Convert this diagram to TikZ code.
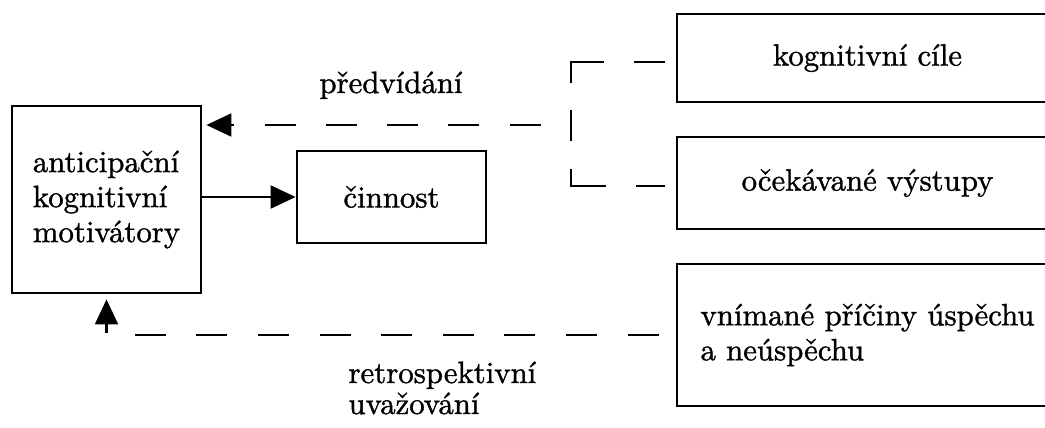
\documentclass[tikz,border=0pt]{standalone}
\usepackage{fontspec}
\setmainfont{lmroman10-regular.otf}[RawFeature={embolden=1.2}]
\usetikzlibrary{arrows.meta}
\begin{document}
\begin{tikzpicture}[x=1pt, y=-1pt,
  font=\fontsize{30.8}{35}\selectfont,
  box/.style={draw, line width=2.8pt, inner sep=0pt},
  link/.style={line width=2.1pt},
  tip/.style={-{Triangle[length=25pt,width=23pt]}},
]
\useasboundingbox (0,0) rectangle (1045,428);

% boxes
\node[box, minimum width=189pt, minimum height=187pt, align=left] (motiv) at (106.5,199.5)
  {anticipační\\kognitivní\\motivátory};
\node[box, minimum width=189pt, minimum height=92pt] (cin) at (391.5,197) {činnost};
\node[box, minimum width=381pt, minimum height=88pt] (goal) at (867.5,58) {kognitivní cíle};
\node[box, minimum width=381pt, minimum height=92pt] (out) at (867.5,183) {očekávané výstupy};
\node[box, minimum width=381pt, minimum height=142pt, align=left] (cause) at (867.5,335)
  {vnímané příčiny úspěchu\\a neúspěchu};

% labels
\node[anchor=base] (fore) at (391,93) {předvídání};
\node[anchor=base west, align=left, font=\fontsize{30.8}{31}\selectfont] (retro) at (345,414)
  {retrospektivní\\uvažování};

% connectors
\draw[link, tip] (motiv.east |- cin.west) -- (cin.west);

\coordinate (fork) at (571,125);
\draw[link, tip, dash pattern=on 31pt off 30.3pt, dash phase=31pt, shorten >=4pt]
  (fork) -- (motiv.east |- fork);

% bracket joining the two upper boxes
\draw[link, dash pattern=on 31pt off 30pt on 54pt off 27pt on 31pt off 28pt on 52pt off 30pt on 31pt off 100pt]
  ([xshift=-11pt, yshift=-4pt]goal.west) -| (fork) |- ([xshift=-11pt, yshift=-3pt]out.west);

\draw[link, tip, dash pattern=on 31pt off 30.6pt, shorten >=5pt]
  ([xshift=-17pt]cause.west) -| (motiv.south);
\end{tikzpicture}
\end{document}
